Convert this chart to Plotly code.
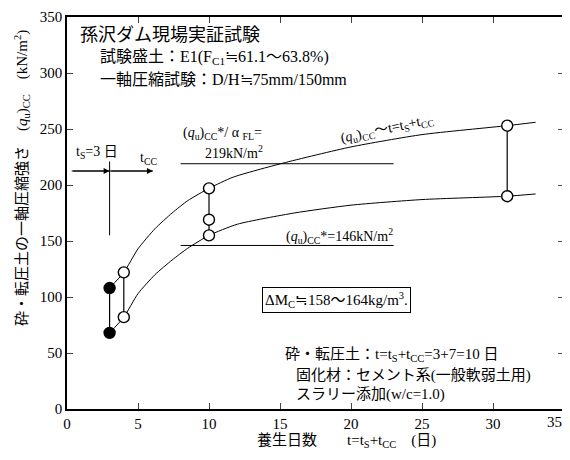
import plotly.graph_objects as go

# ---- data ----
days_upper = [3, 4, 5, 6.2, 7.4, 8.5, 10, 11.7, 15.2, 20, 25, 31, 33]
qu_upper = [108, 122, 143, 161, 175, 186, 197, 207, 219.5, 234, 245, 253, 256]
days_lower = [3, 4, 5, 6.2, 7.4, 8.5, 10, 12, 16, 20, 25, 31, 33]
qu_lower = [68, 82, 103, 120, 133, 143.5, 155, 165, 175, 182, 187, 190, 192]

half_days = [3, 3]
half_qu = [108, 68]
open_days = [4, 4, 10, 10, 10, 31, 31]
open_qu = [122, 82, 197, 169, 155, 253, 190]

# vertical connectors between test results at the same age
conn_days = [3, 4, 10, 31]
conn_low = [68, 82, 155, 190]
conn_high = [108, 122, 197, 253]

# reference levels
ref_levels = [219, 146]
ref_range = [8, 23]

# t_S / t_CC sketch
ts_day = 3
tcc_end = 6.05
arrow_start = 0.33
arrow_level = 212.5
ts_vline = [155, 221]

x_ticks = [0, 5, 10, 15, 20, 25, 30, 35]
x_tick_labels = ["0", "5", "10", "15", "20", "25", "30", "35"]
y_ticks = [0, 50, 100, 150, 200, 250, 300, 350]

FONT = "Liberation Serif, Times New Roman, Noto Sans CJK JP, serif"
FONT_JP = "Noto Sans CJK JP, Liberation Serif, serif"

# the page body keeps a default 8px margin
OFF = 8
W, H = 570 - OFF, 460 - OFF
L, T, R, B = 67 - OFF, 17 - OFF, 564 - OFF, 409 - OFF

fig = go.Figure()

fig.add_trace(go.Scatter(x=days_upper, y=qu_upper, mode="lines",
                         line=dict(color="black", width=1, shape="spline", smoothing=0.6),
                         hoverinfo="skip"))
fig.add_trace(go.Scatter(x=days_lower, y=qu_lower, mode="lines",
                         line=dict(color="black", width=1, shape="spline", smoothing=0.6),
                         hoverinfo="skip"))

for lv in ref_levels:
    fig.add_trace(go.Scatter(x=ref_range, y=[lv, lv], mode="lines",
                             line=dict(color="black", width=1), hoverinfo="skip"))

for d, lo, hi in zip(conn_days, conn_low, conn_high):
    fig.add_trace(go.Scatter(x=[d, d], y=[lo, hi], mode="lines",
                             line=dict(color="black", width=1.2), hoverinfo="skip"))

# t_S sketch lines
fig.add_trace(go.Scatter(x=[ts_day, ts_day], y=ts_vline, mode="lines",
                         line=dict(color="black", width=1), hoverinfo="skip"))
fig.add_trace(go.Scatter(x=[arrow_start, tcc_end], y=[arrow_level, arrow_level], mode="lines",
                         line=dict(color="black", width=1), hoverinfo="skip"))

fig.add_trace(go.Scatter(x=open_days, y=open_qu, mode="markers",
                         marker=dict(symbol="circle", size=11, color="white",
                                     line=dict(color="black", width=1.4)),
                         hoverinfo="skip"))
fig.add_trace(go.Scatter(x=half_days, y=half_qu, mode="markers",
                         marker=dict(symbol="circle", size=11, color="black",
                                     line=dict(color="black", width=1.4)),
                         hoverinfo="skip"))


def pp(px, py):
    px, py = px - OFF, py - OFF
    return (px - L) / (R - L), (B - py) / (B - T)


ann = []


def txt(text, px, py, size=15, xanchor="left", font=FONT, angle=0, **kw):
    x, y = pp(px, py)
    ann.append(dict(text=text, x=x, y=y, xref="paper", yref="paper", xanchor=xanchor,
                    yanchor="middle", showarrow=False, textangle=angle,
                    font=dict(family=font, size=size, color="black"), **kw))


txt("孫沢ダム現場実証試験", 78, 33, size=18, font=FONT_JP)
txt("試験盛土：E1(F<sub>C1</sub>≒61.1～63.8%)", 98, 57, size=16)
txt("一軸圧縮試験：D/H≒75mm/150mm", 98, 79, size=16)

txt("(<i>q</i><sub>u</sub>)<sub>CC</sub>*/ α <sub>FL</sub>=", 181, 134, size=14)
txt("219kN/m<sup>2</sup>", 203, 152, size=14)
txt("(<i>q</i><sub>u</sub>)<sub>CC</sub>～t=t<sub>S</sub>+t<sub>CC</sub>", 387, 130, size=14,
    xanchor="center", angle=-12)
txt("(<i>q</i><sub>u</sub>)<sub>CC</sub>*=146kN/m<sup>2</sup>", 284, 236, size=14)

txt("ΔM<sub>C</sub>≒158～164kg/m<sup>3</sup>.", 262, 300, size=15,
    bordercolor="black", borderwidth=1, borderpad=2)

txt("砕・転圧土：t=t<sub>S</sub>+t<sub>CC</sub>=3+7=10 日", 283, 355, size=15)
txt("固化材：セメント系(一般軟弱土用)", 294, 375, size=15)
txt("スラリー添加(w/c=1.0)", 294, 394, size=15)

txt("t<sub>S</sub>=3 日", 74, 152, size=14)
txt("t<sub>CC</sub>", 138, 158, size=14)

txt("養生日数　　t=t<sub>S</sub>+t<sub>CC</sub>　(日)", 346, 441, size=15, xanchor="center")
txt("砕・転圧土の一軸圧縮強さ　(<i>q</i><sub>u</sub>)<sub>CC</sub>　(kN/m<sup>2</sup>)", 22, 178,
    size=15, xanchor="center", angle=-90)

# last x tick label, kept inside the page edge
txt(x_tick_labels[-1], 564, 422, size=15, xanchor="right")

# arrow heads of the t_S / t_CC sketch
for x0, x1 in [(arrow_start, ts_day), (ts_day, tcc_end)]:
    ann.append(dict(x=x1, y=arrow_level, ax=x0, ay=arrow_level, xref="x", yref="y",
                    axref="x", ayref="y", text="", showarrow=True, arrowhead=2,
                    arrowsize=1.2, arrowwidth=1, arrowcolor="black"))

fig.update_layout(
    width=W, height=H, autosize=False,
    margin=dict(l=L, r=W - R, t=T, b=H - B, autoexpand=False),
    paper_bgcolor="white", plot_bgcolor="white",
    showlegend=False,
    annotations=ann,
    font=dict(family=FONT, size=15, color="black"),
)
fig.update_xaxes(range=[0, 35], tickvals=x_ticks, ticktext=x_tick_labels[:-1] + [""],
                 ticks="inside", ticklen=6, tickwidth=1.2,
                 showline=True, linecolor="black", linewidth=1.5, mirror="ticks",
                 showgrid=False, zeroline=False, automargin=False,
                 tickfont=dict(family=FONT, size=15))
fig.update_yaxes(range=[0, 350], tickvals=y_ticks, ticks="inside", ticklen=6, tickwidth=1.2,
                 showline=True, linecolor="black", linewidth=1.5, mirror="ticks",
                 showgrid=False, zeroline=False, automargin=False,
                 tickfont=dict(family=FONT, size=15))

fig.write_html("out.html", config={"responsive": False})
